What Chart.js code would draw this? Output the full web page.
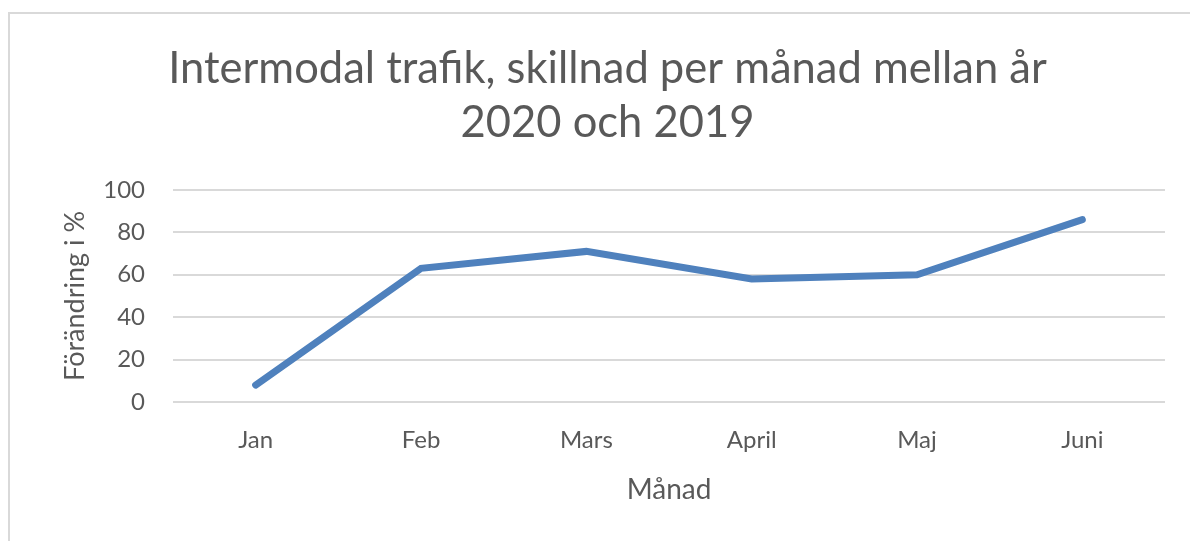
<!DOCTYPE html>
<html>
<head>
<meta charset="utf-8">
<script src="https://cdn.jsdelivr.net/npm/chart.js@4.4.0/dist/chart.umd.min.js"></script>
<style>
  html, body { margin: 0; padding: 0; background: #fff; overflow: hidden; }
  #wrap { position: absolute; left: 0; top: 0; width: 1190px; height: 541px; }
  #frame { position: absolute; left: 8px; top: 12px; width: 1190px; height: 541px;
           border-left: 2px solid #d9d9d9; border-top: 2px solid #d9d9d9; }
  canvas { position: absolute; left: 0; top: 0; }
</style>
</head>
<body>
<div id="wrap">
  <div id="frame"></div>
  <canvas id="chart" width="1190" height="541"></canvas>
</div>
<script>
// Data
const months = ['Jan', 'Feb', 'Mars', 'April', 'Maj', 'Juni'];
const changePct = [8, 63, 71, 58, 60, 86];
const yMin = 0, yMax = 100, yStep = 20;

const TEXT = '#595959';
const GRID = '#d9d9d9';
const LINE = '#4f81bd';
const FONT = 'Lato, "Open Sans", sans-serif';

new Chart(document.getElementById('chart'), {
  type: 'line',
  data: {
    labels: months,
    datasets: [{
      label: 'Förändring i %',
      data: changePct,
      borderColor: LINE,
      backgroundColor: LINE,
      borderWidth: 7,
      borderCapStyle: 'round',
      tension: 0,
      pointRadius: 0,
      fill: false
    }]
  },
  options: {
    responsive: false,
    animation: false,
    layout: { padding: { left: 50, right: 25, top: 0, bottom: 20 } },
    plugins: {
      legend: { display: false },
      tooltip: { enabled: false },
      title: {
        display: true,
        text: ['Intermodal trafik, skillnad per månad mellan år', '2020 och 2019'],
        color: TEXT,
        font: { family: FONT, size: 43.5, weight: 'normal', lineHeight: 1.24 },
        padding: { top: 42, bottom: 40 }
      }
    },
    scales: {
      x: {
        offset: true,
        grid: { display: false, drawTicks: false },
        border: { display: false },
        ticks: { color: TEXT, font: { family: FONT, size: 24 }, padding: 24 },
        title: {
          display: true, text: 'Månad', color: TEXT,
          font: { family: FONT, size: 28 }, padding: { top: 20, bottom: 14 }
        },
        afterFit: s => { s.height = 119; }
      },
      y: {
        min: yMin, max: yMax,
        ticks: { stepSize: yStep, color: TEXT, font: { family: FONT, size: 24 }, padding: 28 },
        grid: { color: GRID, lineWidth: 2, drawTicks: false },
        border: { display: false },
        title: {
          display: true, text: 'Förändring i %', color: TEXT,
          font: { family: FONT, size: 27 }, padding: { top: 9, bottom: 0 }
        },
        afterFit: s => { s.width = 123; }
      }
    }
  }
});
</script>
</body>
</html>
